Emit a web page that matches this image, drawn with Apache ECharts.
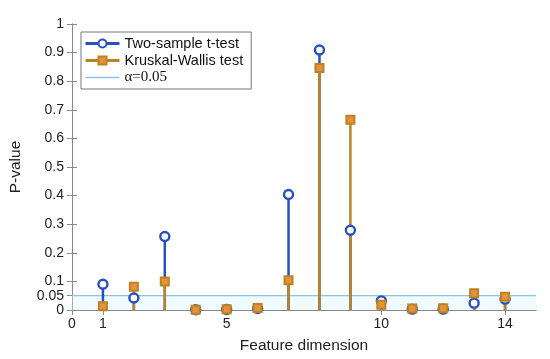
<!DOCTYPE html>
<html>
<head>
<meta charset="utf-8">
<script src="https://cdn.jsdelivr.net/npm/echarts@6/dist/echarts.min.js"></script>
<style>html,body{margin:0;padding:0;background:#fff}#c{width:550px;height:359px}</style>
</head>
<body>
<div id="c"></div>
<script>
var features = [1,2,3,4,5,6,7,8,9,10,11,12,13,14];
var tTest = [0.090,0.042,0.257,0.001,0.002,0.005,0.404,0.909,0.279,0.032,0.003,0.003,0.024,0.038];
var kwTest = [0.013,0.081,0.100,0.001,0.003,0.007,0.104,0.846,0.665,0.018,0.005,0.006,0.059,0.046];
var alpha = 0.05;
var xTicks = [0,1,5,10,14];
var yTicks = [0,0.05,0.1,0.2,0.3,0.4,0.5,0.6,0.7,0.8,0.9,1];

var blue = '#2850c0', orange = '#bb8420', sqFill = '#e8913c', alphaColor = '#8cc4e8';
function pairs(v){ return features.map(function(f,i){ return [f, v[i]]; }); }
function stem(color){
  return function(params, api){
    var p0 = api.coord([api.value(0), 0]);
    var p1 = api.coord([api.value(0), api.value(1)]);
    return {type:'line', shape:{x1:p0[0],y1:p0[1],x2:p1[0],y2:p1[1]}, style:{stroke:color, lineWidth:2.5}};
  };
}
var axisCol = '#8a8a8a';
var font = 'Liberation Sans, Arial, sans-serif';
var chart = echarts.init(document.getElementById('c'));
chart.setOption({
  animation:false,
  grid:{left:70,right:14,top:24,bottom:48},
  legend:{
    orient:'vertical', left:81, top:32, padding:[3,8,3,3], itemGap:0,
    itemWidth:34, itemHeight:10,
    backgroundColor:'#fff', borderColor:'#777', borderWidth:1,
    textStyle:{fontFamily:font, fontSize:14.5, color:'#111', lineHeight:17,
      rich:{a:{fontFamily:'Liberation Serif, Times New Roman, serif', fontSize:15, color:'#111', lineHeight:17}}},
    formatter:function(n){ return n.indexOf('α')===0 ? '{a|'+n+'}' : n; },
    data:[
      {name:'Two-sample t-test', lineStyle:{color:blue, width:3, opacity:1}},
      {name:'Kruskal-Wallis test', lineStyle:{color:orange, width:3, opacity:1}},
      {name:'α=0.05', lineStyle:{color:alphaColor, width:1.5, opacity:1}, itemStyle:{opacity:0}}
    ]
  },
  xAxis:[{
    type:'value', min:0, max:15, position:'bottom',
    name:'Feature dimension', nameLocation:'middle', nameGap:28,
    nameTextStyle:{fontFamily:font, fontSize:15.5, color:'#222'},
    axisLine:{show:true, lineStyle:{color:axisCol}},
    axisTick:{show:true, inside:true, length:5, customValues:xTicks, lineStyle:{color:axisCol}},
    axisLabel:{customValues:xTicks, fontFamily:font, fontSize:14, color:'#222', margin:7},
    splitLine:{show:false}
  },{
    type:'value', min:0, max:15, position:'top',
    axisLine:{show:true, lineStyle:{color:axisCol}},
    axisTick:{show:true, inside:true, length:5, customValues:xTicks, lineStyle:{color:axisCol}},
    axisLabel:{show:false}, splitLine:{show:false}
  }],
  yAxis:[{
    type:'value', min:0, max:1, position:'left',
    name:'P-value', nameLocation:'middle', nameGap:48,
    nameTextStyle:{fontFamily:font, fontSize:15.5, color:'#222'},
    axisLine:{show:true, lineStyle:{color:axisCol}},
    axisTick:{show:true, inside:true, length:5, customValues:yTicks, lineStyle:{color:axisCol}},
    axisLabel:{customValues:yTicks, fontFamily:font, fontSize:14, color:'#222', margin:8,
      formatter:function(v){ return String(Math.round(v*100)/100); }},
    splitLine:{show:false}
  },{
    type:'value', min:0, max:1, position:'right',
    axisLine:{show:true, lineStyle:{color:axisCol}},
    axisTick:{show:true, inside:true, length:5, customValues:yTicks, lineStyle:{color:axisCol}},
    axisLabel:{show:false}, splitLine:{show:false}
  }],
  series:[
    {name:'α=0.05', type:'line', data:[[0,alpha],[15,alpha]], showSymbol:false, symbol:'none',
     lineStyle:{color:alphaColor, width:1.2}, itemStyle:{color:alphaColor}, z:1,
     markArea:{silent:true, itemStyle:{color:'rgba(210,244,252,0.35)'}, data:[[{yAxis:0},{yAxis:alpha}]]}},
    {type:'custom', data:pairs(tTest), renderItem:stem(blue), z:2, silent:true},
    {type:'custom', data:pairs(kwTest), renderItem:stem(orange), z:3, silent:true},
    {name:'Two-sample t-test', type:'line', data:pairs(tTest), symbol:'circle', symbolSize:9,
     lineStyle:{width:0, opacity:0}, itemStyle:{color:'#fff', borderColor:blue, borderWidth:2.4}, z:4},
    {name:'Kruskal-Wallis test', type:'line', data:pairs(kwTest), symbol:'rect', symbolSize:8,
     lineStyle:{width:0, opacity:0}, itemStyle:{color:sqFill, borderColor:orange, borderWidth:2}, z:5}
  ]
});
</script>
</body>
</html>
